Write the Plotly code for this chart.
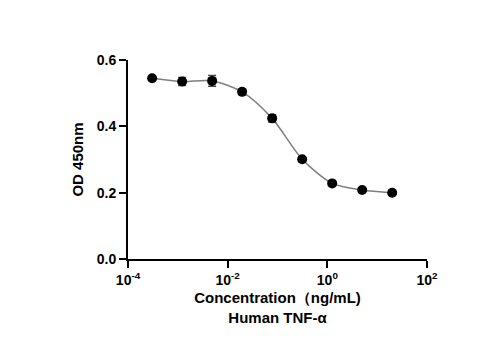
import plotly.graph_objects as go

# Human TNF-alpha dose response, 4-fold serial dilution
concentration = [0.000305, 0.00122, 0.00488, 0.0195, 0.0781, 0.3125, 1.25, 5.0, 20.0]
od450 = [0.545, 0.535, 0.537, 0.504, 0.424, 0.301, 0.228, 0.208, 0.200]
od_sd = [0.003, 0.012, 0.016, 0.008, 0.011, 0.005, 0.004, 0.004, 0.003]

x_tickvals = [1e-4, 1e-2, 1e0, 1e2]
x_ticktext = ["10<sup>-4</sup>", "10<sup>-2</sup>", "10<sup>0</sup>", "10<sup>2</sup>"]
y_tickvals = [0.0, 0.2, 0.4, 0.6]
y_ticktext = ["0.0", "0.2", "0.4", "0.6"]

font_family = "Liberation Sans, Arial, sans-serif"

fig = go.Figure()

# smooth curve through the means
fig.add_trace(go.Scatter(
    x=concentration, y=od450, mode="lines",
    line=dict(color="#7f7f7f", width=1.5, shape="spline", smoothing=0.8),
    hoverinfo="skip", showlegend=False,
))

# mean points with SD error bars
fig.add_trace(go.Scatter(
    x=concentration, y=od450, mode="markers",
    marker=dict(color="black", size=10),
    error_y=dict(type="data", array=od_sd, color="#444444", thickness=1.5, width=4),
    showlegend=False,
))

fig.update_layout(
    width=503, height=349,
    margin=dict(l=128, r=76, t=60, b=90),
    paper_bgcolor="white", plot_bgcolor="white",
    font=dict(family=font_family, color="black"),
    xaxis=dict(
        type="log", range=[-4, 2],
        tickvals=x_tickvals, ticktext=x_ticktext,
        ticks="outside", ticklen=7, tickwidth=1.8, tickcolor="black",
        showline=True, linecolor="black", linewidth=1.8,
        showgrid=False, zeroline=False,
        tickfont=dict(size=14, weight="bold"),
        title=dict(text="Concentration（ng/mL)<br>Human TNF-α",
                   font=dict(size=15, weight="bold"), standoff=6),
    ),
    yaxis=dict(
        range=[0, 0.6],
        tickvals=y_tickvals, ticktext=y_ticktext,
        ticks="outside", ticklen=7, tickwidth=1.8, tickcolor="black",
        showline=True, linecolor="black", linewidth=1.8,
        showgrid=False, zeroline=False,
        tickfont=dict(size=14, weight="bold"),
        title=dict(text="OD 450nm", font=dict(size=15, weight="bold"), standoff=10),
    ),
)

fig.write_html("out.html")
